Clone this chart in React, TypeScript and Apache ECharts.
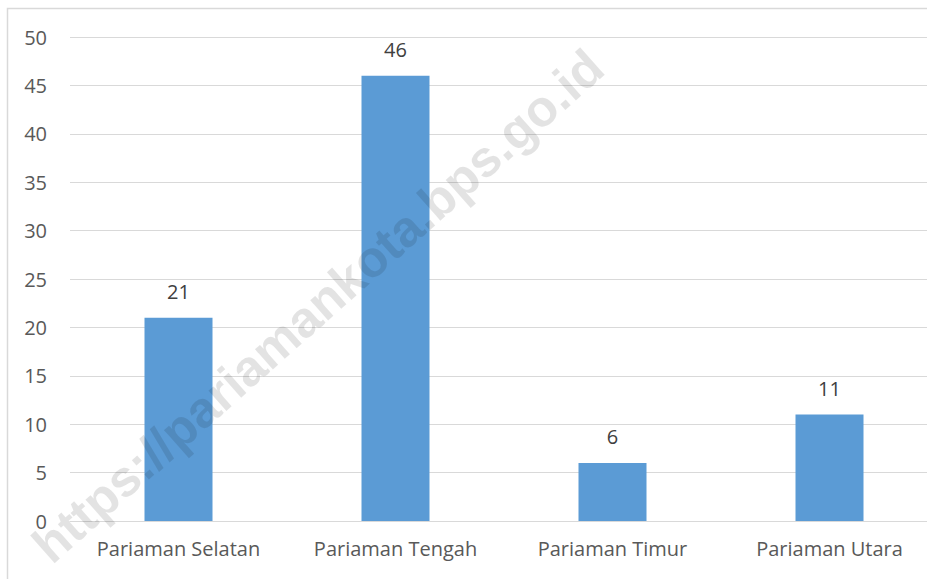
import React, { useEffect, useRef } from "react";
import * as echarts from "echarts";

const categories = ["Pariaman Selatan", "Pariaman Tengah", "Pariaman Timur", "Pariaman Utara"];
const values = [21, 46, 6, 11];
const yMin = 0;
const yMax = 50;
const yStep = 5;
const watermark = "https://pariamankota.bps.go.id";

export default function App() {
  const ref = useRef<HTMLDivElement>(null);
  useEffect(() => {
    if (!ref.current) return;
    const chart = echarts.init(ref.current, undefined, { renderer: "svg" });
    chart.setOption({
      animation: false,
      backgroundColor: "#ffffff",
      textStyle: { fontFamily: "Open Sans" },
      grid: { left: 70, top: 37, width: 868, height: 484, containLabel: false },
      xAxis: {
        type: "category",
        data: categories,
        axisLine: { show: true, lineStyle: { color: "#d9d9d9", width: 1 } },
        axisTick: { show: false },
        axisLabel: { color: "#595959", fontSize: 20, margin: 17, fontFamily: "Open Sans", interval: 0 },
      },
      yAxis: {
        type: "value",
        min: yMin,
        max: yMax,
        interval: yStep,
        axisLine: { show: false },
        axisTick: { show: false },
        splitLine: { lineStyle: { color: "#d9d9d9", width: 1 } },
        axisLabel: { color: "#595959", fontSize: 20, margin: 23, fontFamily: "Open Sans" },
      },
      series: [
        {
          type: "bar",
          data: values,
          barWidth: 68,
          itemStyle: { color: "#5b9bd5" },
          label: {
            show: true,
            position: "top",
            distance: 16,
            color: "#404040",
            fontSize: 20,
            fontFamily: "Open Sans",
          },
        },
      ],
      graphic: [
        {
          type: "rect",
          left: 5,
          top: 6,
          shape: { x: 0, y: 0, width: 960, height: 600 },
          style: { fill: "none", stroke: "#d9d9d9", lineWidth: 1.5 },
          z: 0,
          silent: true,
        },
        {
          type: "text",
          x: 318,
          y: 306,
          rotation: (41.6 * Math.PI) / 180,
          z: 100,
          silent: true,
          style: {
            text: watermark,
            fontFamily: "Liberation Sans",
            fontWeight: "bold",
            fontSize: 51,
            fill: "rgba(0,0,0,0.11)",
            align: "center",
            verticalAlign: "middle",
          },
        },
      ],
    });
    return () => chart.dispose();
  }, []);
  return (
    <div style={{ width: 927, height: 579, position: "absolute", left: 0, top: 0, overflow: "hidden" }}>
      <div ref={ref} style={{ width: 960, height: 600 }} />
    </div>
  );
}
